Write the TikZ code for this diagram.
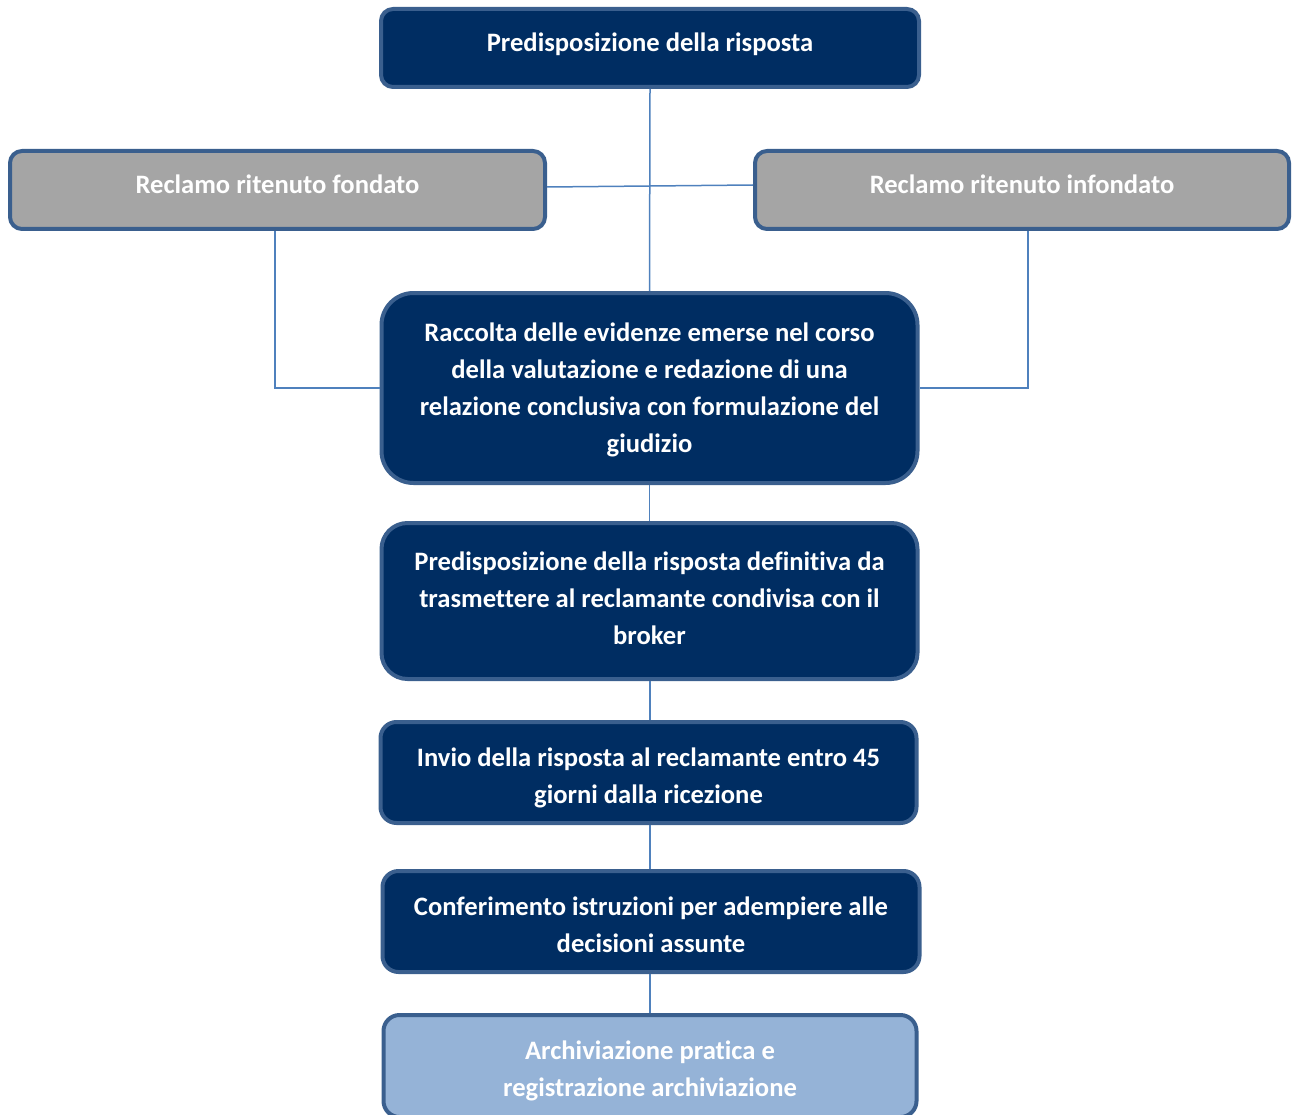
\documentclass[tikz,border=0pt]{standalone}
\usepackage{fontspec}
\setmainfont[Ligatures=NoCommon]{Carlito}
\definecolor{navy}{HTML}{002D62}
\definecolor{edge}{HTML}{3A5F8E}
\definecolor{greyfill}{HTML}{A5A5A5}
\definecolor{lightblue}{HTML}{95B3D7}
\definecolor{link}{HTML}{4F81BD}
\begin{document}
\begin{tikzpicture}[x=1pt,y=-1pt,
  box/.style={draw=edge, line width=4pt, fill=navy, inner sep=0pt, rounded corners=12pt},
  greybox/.style={box, fill=greyfill},
  lastbox/.style={box, fill=lightblue},
  txt/.style={text=white, align=center, font=\fontsize{26.6}{37}\selectfont\bfseries, inner sep=0pt},
  conn/.style={draw=link, line width=1.5pt}]
\useasboundingbox (0,0) rectangle (1292,1115);
% boxes
\node[box, minimum width=538pt, minimum height=78pt] (top) at (650,48) {};
\node[greybox, minimum width=535pt, minimum height=78pt] (fond) at (277.5,190) {};
\node[greybox, minimum width=534pt, minimum height=78pt] (infond) at (1022,190) {};
\node[box, rounded corners=32pt, minimum width=536pt, minimum height=190pt] (racc) at (649.5,388) {};
\node[box, rounded corners=26pt, minimum width=536pt, minimum height=156pt] (def) at (649.5,601) {};
\node[box, rounded corners=16pt, minimum width=536pt, minimum height=101pt] (invio) at (648.5,772.5) {};
\node[box, rounded corners=16pt, minimum width=537pt, minimum height=101pt] (conf) at (651,921.5) {};
\node[lastbox, rounded corners=16pt, minimum width=533pt, minimum height=102pt] (arch) at (650,1066) {};
% texts
\node[txt] (toptext) at ([yshift=4pt]top.center) {Predisposizione della risposta};
\node[txt] (fondtext) at ([yshift=6pt]fond.center) {Reclamo ritenuto fondato};
\node[txt] (infondtext) at ([yshift=6pt]infond.center) {Reclamo ritenuto infondato};
\node[txt] (racctext) at ([yshift=-2pt]racc.center) {Raccolta delle evidenze emerse nel corso\\della valutazione e redazione di una\\relazione conclusiva con formulazione del\\giudizio};
\node[txt] (deftext) at ([yshift=3pt]def.center) {Predisposizione della risposta definitiva da\\trasmettere al reclamante condivisa con il\\broker};
\node[txt] (inviotext) at ([yshift=-5pt]invio.center) {Invio della risposta al reclamante entro 45\\giorni dalla ricezione};
\node[txt] (conftext) at ([yshift=-3pt]conf.center) {Conferimento istruzioni per adempiere alle\\decisioni assunte};
\node[txt] (archtext) at ([yshift=-5pt]arch.center) {Archiviazione pratica e\\registrazione archiviazione};
% connectors
\draw[conn] (top.south) -- (racc.north);
\draw[conn] ([yshift=3pt]fond.east) -- ([yshift=5pt]infond.west);
\draw[conn] (fond.south -| 275,0) |- (racc.west);
\draw[conn] (infond.south -| 1028,0) |- (racc.east);
\draw[conn] (racc.south) -- (def.north);
\draw[conn] (def.south -| 650,0) -- (invio.north -| 650,0);
\draw[conn] (invio.south -| 650,0) -- (conf.north -| 650,0);
\draw[conn] (conf.south -| 650,0) -- (arch.north -| 650,0);
\end{tikzpicture}
\end{document}
